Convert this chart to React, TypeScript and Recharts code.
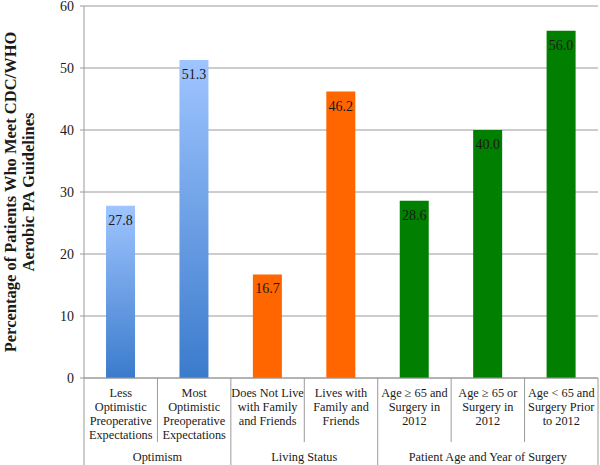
import { BarChart, Bar, XAxis, YAxis, CartesianGrid, Cell, LabelList } from "recharts";

const categories = [
  "Less\nOptimistic\nPreoperative\nExpectations",
  "Most\nOptimistic\nPreoperative\nExpectations",
  "Does Not Live\nwith Family\nand Friends",
  "Lives with\nFamily and\nFriends",
  "Age ≥ 65 and\nSurgery in\n2012",
  "Age ≥ 65 or\nSurgery in\n2012",
  "Age < 65 and\nSurgery Prior\nto 2012",
];
const values = [27.8, 51.3, 16.7, 46.2, 28.6, 40.0, 56.0];
const groupNames = ["Optimism", "Living Status", "Patient Age and Year of Surgery"];
const groupSizes = [2, 2, 3];
const yTicks = [0, 10, 20, 30, 40, 50, 60];

const fills = ["url(#blueGrad)", "url(#blueGrad)", "#ff6600", "#ff6600", "#007f00", "#007f00", "#007f00"];

const W = 600;
const H = 465;
const LEFT = 84;
const RIGHT = 598;
const BAND = (RIGHT - LEFT) / categories.length;
const FONT = "'Liberation Serif', 'Times New Roman', serif";
const LINE = "#9a9a9a";
const INK = "#1a1a1a";

const data = categories.map((c, i) => ({ name: c, value: values[i] }));

// group start index for each category, and whether a category closes its group
const groupStart: Record<number, number> = {};
const groupEnd = new Set<number>();
let k = 0;
groupSizes.forEach((n, g) => {
  groupStart[k] = g;
  groupEnd.add(k + n - 1);
  k += n;
});

const serif = { fontFamily: FONT };

function CategoryTick(props: any) {
  const { x, y, payload } = props;
  const i = payload.index;
  const lines = String(payload.value).split("\n");
  const left = x - BAND / 2;
  const right = x + BAND / 2;
  const g = groupStart[i];
  return (
    <g>
      {i === 0 && <line x1={left} y1={y} x2={left} y2={H} stroke={LINE} />}
      <line x1={right} y1={y} x2={right} y2={groupEnd.has(i) ? H : y + 64} stroke={LINE} />
      <text x={x} y={y + 19} textAnchor="middle" fontSize={12.3} style={serif} fill={INK}>
        {lines.map((l, j) => (
          <tspan key={j} x={x} dy={j === 0 ? 0 : 14}>
            {l}
          </tspan>
        ))}
      </text>
      {g !== undefined && (
        <text
          x={left + (groupSizes[g] * BAND) / 2}
          y={y + 83}
          textAnchor="middle"
          fontSize={12.3}
          style={serif}
          fill={INK}
        >
          {groupNames[g]}
        </text>
      )}
    </g>
  );
}

function YLabel(props: any) {
  const { viewBox } = props;
  const cy = viewBox.y + viewBox.height / 2;
  return (
    <g transform={`translate(0, ${cy}) rotate(-90)`}>
      <text textAnchor="middle" fontSize={16.5} fontWeight="bold" style={serif} fill={INK}>
        <tspan x={0} y={16}>Percentage of Patients Who Meet CDC/WHO</tspan>
        <tspan x={0} y={34}>Aerobic PA Guidelines</tspan>
      </text>
    </g>
  );
}

export default function App() {
  return (
    <div style={{ position: "absolute", left: 0, top: 0, width: W, height: H, background: "#fff", fontFamily: FONT }}>
      <BarChart width={W} height={H} data={data} margin={{ top: 6, right: W - RIGHT, left: 0, bottom: 0 }} barCategoryGap="30%">
        <defs>
          <linearGradient id="blueGrad" x1="0" y1="0" x2="0" y2="1">
            <stop offset="0%" stopColor="#9fc5ff" />
            <stop offset="100%" stopColor="#3b7bcc" />
          </linearGradient>
        </defs>
        <CartesianGrid horizontal vertical={false} stroke={LINE} />
        <XAxis
          dataKey="name"
          height={H - 378}
          interval={0}
          tickLine={false}
          tickSize={0}
          tickMargin={0}
          axisLine={{ stroke: LINE }}
          tick={<CategoryTick />}
        />
        <YAxis
          width={LEFT}
          domain={[0, 60]}
          ticks={yTicks}
          interval={0}
          tickSize={4}
          tickMargin={6}
          axisLine={{ stroke: LINE }}
          tickLine={{ stroke: LINE }}
          tick={{ fontSize: 14, fill: INK, style: serif }}
          label={<YLabel />}
        />
        <Bar dataKey="value" isAnimationActive={false}>
          {data.map((d, i) => (
            <Cell key={i} fill={fills[i]} />
          ))}
          <LabelList
            dataKey="value"
            position="insideTop"
            offset={9}
            formatter={(v: any) => Number(v).toFixed(1)}
            style={{ fontSize: 14, fontFamily: FONT, fill: INK }}
          />
        </Bar>
      </BarChart>
    </div>
  );
}
